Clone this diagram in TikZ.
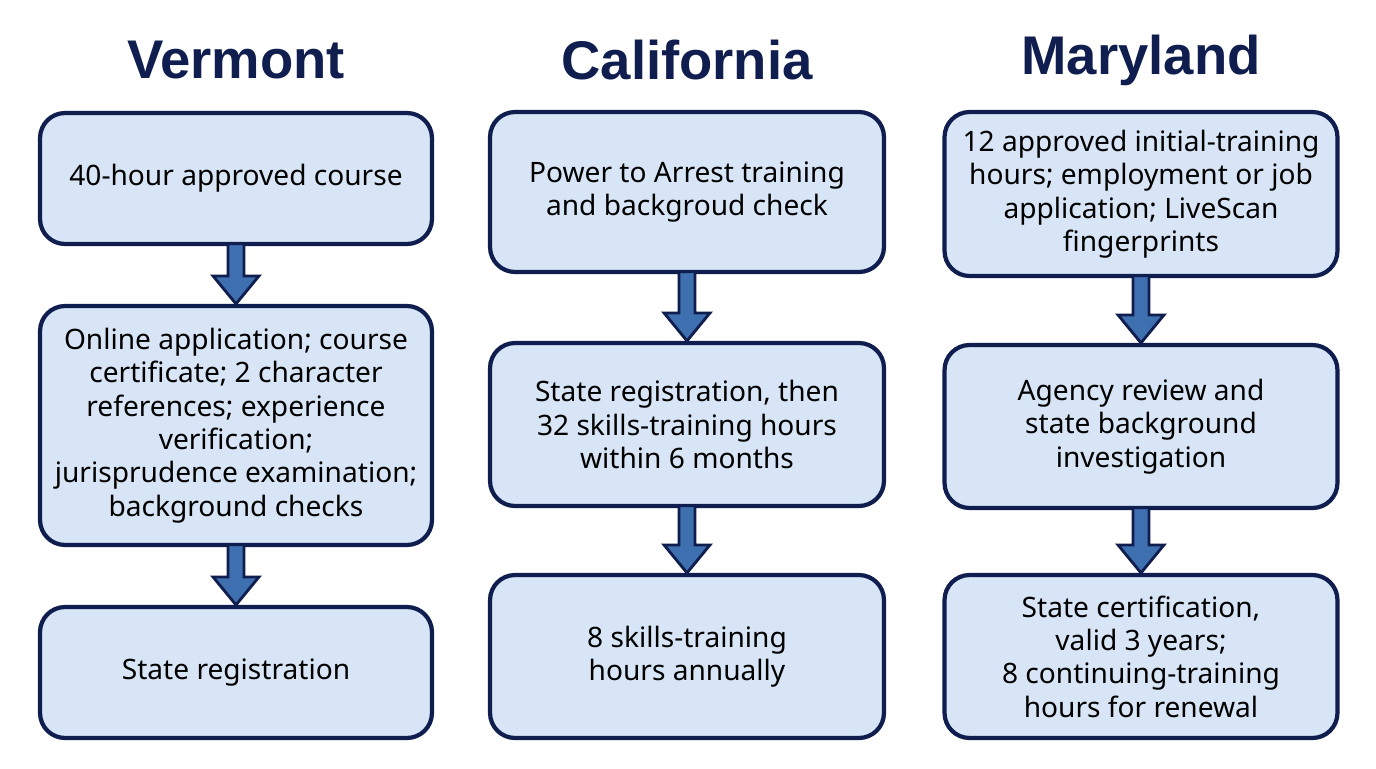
\documentclass[tikz,border=0pt]{standalone}
\usepackage{fontspec}
\setmainfont{Noto Sans}
\newfontfamily\tfont{Liberation Sans}
\usetikzlibrary{calc}
\definecolor{navy}{HTML}{0F1E4E}
\definecolor{boxfill}{HTML}{D7E5F6}
\definecolor{arrfill}{HTML}{3E6FAE}
\tikzset{
  box/.style={draw=navy, line width=2.4pt, fill=boxfill, rounded corners=0.5cm, align=center,
    font=\fontsize{16}{19}\selectfont, text=black, inner sep=0pt},
  title/.style={font=\tfont\fontsize{31}{36}\selectfont\bfseries, text=navy},
  blk/.style={draw=navy, line width=1.6pt, fill=arrfill, line join=miter}
}
\newcommand\blkarrow[2]{%
  \path[blk] let \p1=(#1.south), \p2=(#2.north) in
   (\x1-0.16cm,\y1+0.05cm) -- (\x1+0.16cm,\y1+0.05cm) -- (\x1+0.16cm,\y2+0.56cm) -- (\x1+0.46cm,\y2+0.56cm)
   -- (\x1,\y2) -- (\x1-0.46cm,\y2+0.56cm) -- (\x1-0.16cm,\y2+0.56cm) -- cycle;}
\begin{document}
\begin{tikzpicture}[x=0.02cm,y=-0.02cm]
\useasboundingbox[fill=white] (0,0) rectangle (1376,768);
\node[title] (t1) at (236,60) {Vermont};
\node[title] (t2) at (687,60) {California};
\node[title] (t3) at (1141,60) {Maryland};
% Vermont
\node[box, minimum width=7.84cm, minimum height=2.62cm] (v1) at (236,178.5) {40-hour approved course};
\node[box, minimum width=7.84cm, minimum height=4.78cm] (v2) at (236,425.5) {Online application; course\\certificate; 2 character\\references; experience\\verification;\\jurisprudence examination;\\background checks};
\node[box, minimum width=7.84cm, minimum height=2.62cm] (v3) at (236,672.5) {State registration};
% California
\node[box, minimum width=7.88cm, minimum height=3.2cm] (c1) at (687,192) {Power to Arrest training\\and backgroud check};
\node[box, minimum width=7.88cm, minimum height=3.26cm] (c2) at (687,424.5) {State registration, then\\32 skills-training hours\\within 6 months};
\node[box, minimum width=7.88cm, minimum height=3.26cm] (c3) at (687,656.5) {8 skills-training\\hours annually};
% Maryland
\node[box, minimum width=7.86cm, minimum height=3.28cm] (m1) at (1141,194) {12 approved initial-training\\hours; employment or job\\application; LiveScan\\fingerprints};
\node[box, minimum width=7.86cm, minimum height=3.26cm] (m2) at (1141,426.5) {Agency review and\\state background\\investigation};
\node[box, minimum width=7.86cm, minimum height=3.26cm] (m3) at (1141,656.5) {State certification,\\valid 3 years;\\8 continuing-training\\hours for renewal};
\blkarrow{v1}{v2}
\blkarrow{v2}{v3}
\blkarrow{c1}{c2}
\blkarrow{c2}{c3}
\blkarrow{m1}{m2}
\blkarrow{m2}{m3}
\end{tikzpicture}
\end{document}
